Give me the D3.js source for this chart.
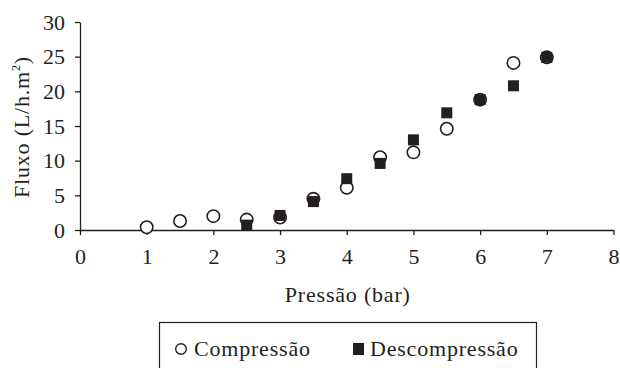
<!DOCTYPE html>
<html><head><meta charset="utf-8">
<script src="https://cdn.jsdelivr.net/npm/d3@7"></script>
<style>
html,body{margin:0;padding:0;background:#fff;}
</style></head>
<body>
<svg id="c" width="620" height="368"></svg>
<script>
const compX = [1, 1.5, 2, 2.5, 3, 3.5, 4, 4.5, 5, 5.5, 6, 6.5, 7];
const compY = [0.4, 1.3, 2.0, 1.5, 1.8, 4.5, 6.1, 10.5, 11.2, 14.6, 18.8, 24.1, 24.9];
const descX = [2.5, 3, 3.5, 4, 4.5, 5, 5.5, 6, 6.5, 7];
const descY = [0.7, 2.1, 4.1, 7.4, 9.6, 13.0, 16.9, 18.8, 20.8, 24.9];
const xTicks = [0, 1, 2, 3, 4, 5, 6, 7, 8];
const yTicks = [0, 5, 10, 15, 20, 25, 30];
const seriesNames = ["Compressão", "Descompressão"];
const xTitle = "Pressão (bar)";

const ink = "#231f20";
const FONT = "Liberation Serif";
const FS = 22, LS = 0.8;
const svg = d3.select("#c");
const L = 80, R = 613.5, T = 22, B = 230;
const x = d3.scaleLinear().domain([0, 8]).range([L, R]);
const y = d3.scaleLinear().domain([0, 30]).range([B, T]);

const ya = svg.append("g").attr("transform", `translate(${L},0)`)
  .call(d3.axisLeft(y).tickValues(yTicks).tickSize(5).tickPadding(10).tickSizeOuter(0));
const xa = svg.append("g").attr("transform", `translate(0,${B})`)
  .call(d3.axisBottom(x).tickValues(xTicks).tickSize(5).tickPadding(13).tickSizeOuter(0));
[ya, xa].forEach(g => {
  g.attr("font-family", FONT).attr("font-size", FS);
  g.select(".domain").attr("stroke", ink).attr("stroke-width", 1.3);
  g.selectAll(".tick line").attr("stroke", ink).attr("stroke-width", 1.3);
  g.selectAll(".tick text").attr("fill", ink).attr("font-family", FONT);
});

svg.append("g").selectAll("circle").data(compX.map((v, i) => [v, compY[i]]))
  .join("circle")
  .attr("cx", d => x(d[0])).attr("cy", d => y(d[1])).attr("r", 6.2)
  .attr("fill", "#fff").attr("stroke", ink).attr("stroke-width", 1.6);

const s = 11;
svg.append("g").selectAll("rect").data(descX.map((v, i) => [v, descY[i]]))
  .join("rect")
  .attr("x", d => x(d[0]) - s / 2).attr("y", d => y(d[1]) - s / 2)
  .attr("width", s).attr("height", s).attr("fill", ink);

svg.append("text").attr("x", (L + R) / 2 + 1).attr("y", 302)
  .attr("text-anchor", "middle").attr("font-size", FS).attr("letter-spacing", LS)
  .attr("font-family", FONT).attr("fill", ink).text(xTitle);

const yt = svg.append("text").attr("transform", "translate(29,127) rotate(-90)")
  .attr("text-anchor", "middle").attr("font-size", FS).attr("letter-spacing", LS)
  .attr("font-family", FONT).attr("fill", ink);
yt.append("tspan").text("Fluxo (L/h.m");
yt.append("tspan").attr("font-size", 12).attr("dy", -9).text("2");
yt.append("tspan").attr("dy", 9).text(")");

svg.append("rect").attr("x", 159.5).attr("y", 322.5).attr("width", 377).attr("height", 60)
  .attr("fill", "none").attr("stroke", ink).attr("stroke-width", 1.2);
svg.append("circle").attr("cx", 181).attr("cy", 349).attr("r", 5.3)
  .attr("fill", "#fff").attr("stroke", ink).attr("stroke-width", 1.4);
svg.append("text").attr("x", 194).attr("y", 356).attr("font-size", FS).attr("letter-spacing", LS)
  .attr("font-family", FONT).attr("fill", ink).text(seriesNames[0]);
svg.append("rect").attr("x", 353).attr("y", 343).attr("width", 11).attr("height", 12).attr("fill", ink);
svg.append("text").attr("x", 370).attr("y", 356).attr("font-size", FS).attr("letter-spacing", LS)
  .attr("font-family", FONT).attr("fill", ink).text(seriesNames[1]);
</script>
</body></html>
